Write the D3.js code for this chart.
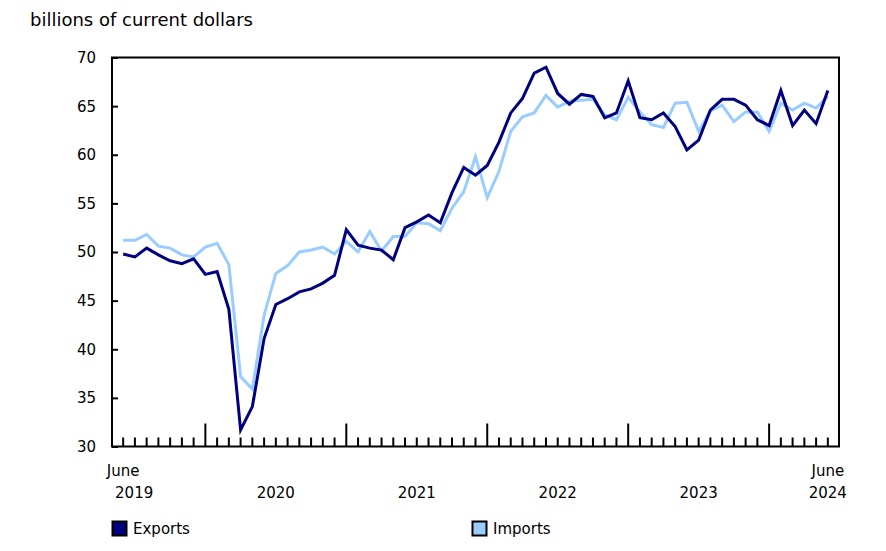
<!DOCTYPE html>
<html>
<head>
<meta charset="utf-8">
<script src="https://cdn.jsdelivr.net/npm/d3@7"></script>
<style>
  body { margin: 0; background: #fff; }
  text { font-family: "DejaVu Sans", Verdana, sans-serif; fill: #000; }
</style>
</head>
<body>
<div id="chart"></div>
<script>
// monthly, June 2019 to June 2024
var months = d3.timeMonth.range(new Date(2019, 5, 1), new Date(2024, 6, 1));

var exportsVals = [
  49.8, 49.5, 50.4, 49.7, 49.1, 48.8, 49.3, 47.7, 48.0, 44.1, 31.7, 34.1,
  41.1, 44.6, 45.2, 45.9, 46.2, 46.8, 47.6, 52.3, 50.7, 50.4, 50.2, 49.2,
  52.5, 53.1, 53.8, 53.0, 56.1, 58.7, 57.9, 58.9, 61.3, 64.3, 65.8, 68.4,
  69.0, 66.3, 65.2, 66.2, 66.0, 63.8, 64.3, 67.6, 63.8, 63.6, 64.3, 62.9,
  60.5, 61.5, 64.6, 65.7, 65.7, 65.1, 63.6, 63.0, 66.6, 63.0, 64.6, 63.2,
  66.6
];

var importsVals = [
  51.2, 51.2, 51.8, 50.6, 50.4, 49.7, 49.5, 50.5, 50.9, 48.7, 37.2, 35.9,
  43.5, 47.8, 48.6, 50.0, 50.2, 50.5, 49.8, 51.1, 50.0, 52.1, 50.1, 51.6,
  51.6, 53.0, 52.9, 52.2, 54.5, 56.2, 59.8, 55.6, 58.3, 62.4, 63.9, 64.3,
  66.1, 64.9, 65.5, 65.6, 65.7, 64.1, 63.6, 65.9, 64.4, 63.1, 62.8, 65.3,
  65.4, 62.4, 64.5, 65.1, 63.4, 64.4, 64.4, 62.4, 65.3, 64.6, 65.3, 64.8,
  66.0
];

var yTicks = [30, 35, 40, 45, 50, 55, 60, 65, 70];
var seriesNames = ["Exports", "Imports"];
var seriesColors = ["#000080", "#99ccff"];

var W = 886, H = 551;
var margin = { top: 57.5, right: 47, bottom: 104.5, left: 112 },
  width = W - margin.left - margin.right,
  height = H - margin.top - margin.bottom;

var svg = d3.select("#chart").append("svg")
  .attr("width", W)
  .attr("height", H);

var g = svg.append("g")
  .attr("transform", "translate(" + margin.left + "," + margin.top + ")");

var x = d3.scaleLinear()
  .domain([-0.95, months.length - 1 + 0.95])
  .range([0, width]);

var y = d3.scaleLinear()
  .domain([30, 70])
  .range([height, 0]);

// frame
g.append("rect")
  .attr("x", 0).attr("y", 0)
  .attr("width", width).attr("height", height)
  .attr("fill", "none")
  .attr("stroke", "#000")
  .attr("stroke-width", 2);

// y axis, ticks inside
var yAxis = g.append("g")
  .call(d3.axisRight(y).tickValues(yTicks).tickSize(6).tickFormat(""));
yAxis.select(".domain").remove();
yAxis.selectAll(".tick line").attr("stroke", "#000").attr("stroke-width", 2);

g.selectAll(".ylab")
  .data(yTicks)
  .enter()
  .append("text")
  .attr("class", "ylab")
  .attr("x", -16)
  .attr("y", function (d) { return y(d); })
  .attr("dy", "0.36em")
  .attr("text-anchor", "end")
  .style("font-size", "15px")
  .text(function (d) { return d; });

// x axis month ticks, long ones at January
var idx = d3.range(months.length);
g.selectAll(".mtick")
  .data(idx)
  .enter()
  .append("line")
  .attr("x1", function (i) { return x(i); })
  .attr("x2", function (i) { return x(i); })
  .attr("y1", height)
  .attr("y2", function (i) { return months[i].getMonth() === 0 ? height - 23 : height - 9; })
  .attr("stroke", "#000")
  .attr("stroke-width", 2);

// year labels
var years = [2020, 2021, 2022, 2023];
years.forEach(function (yr) {
  var a = idx.find(function (i) { return months[i].getFullYear() === yr && months[i].getMonth() === 0; });
  var b = a + 12;
  g.append("text")
    .attr("x", x((a + b) / 2))
    .attr("y", height + 51)
    .attr("text-anchor", "middle")
    .style("font-size", "15px")
    .text(yr);
});

g.append("text")
  .attr("x", x(0))
  .attr("y", height + 29)
  .attr("text-anchor", "middle")
  .style("font-size", "15px")
  .text("June");
g.append("text")
  .attr("x", x(0) + 11)
  .attr("y", height + 51)
  .attr("text-anchor", "middle")
  .style("font-size", "15px")
  .text("2019");
g.append("text")
  .attr("x", x(months.length - 1))
  .attr("y", height + 29)
  .attr("text-anchor", "middle")
  .style("font-size", "15px")
  .text("June");
g.append("text")
  .attr("x", x(months.length - 1))
  .attr("y", height + 51)
  .attr("text-anchor", "middle")
  .style("font-size", "15px")
  .text("2024");

// lines
var line = d3.line()
  .x(function (d, i) { return x(i); })
  .y(function (d) { return y(d); });

[importsVals, exportsVals].forEach(function (vals) {
  var k = vals === exportsVals ? 0 : 1;
  g.append("path")
    .datum(vals)
    .attr("fill", "none")
    .attr("stroke", seriesColors[k])
    .attr("stroke-width", 3)
    .attr("stroke-linejoin", "miter")
    .attr("d", line);
});

// title
svg.append("text")
  .attr("x", 30)
  .attr("y", 26)
  .style("font-size", "18px")
  .text("billions of current dollars");

// legend
var legendX = [112, 472];
var legend = svg.selectAll(".legend")
  .data(seriesNames)
  .enter()
  .append("g")
  .attr("class", "legend")
  .attr("transform", function (d, i) { return "translate(" + legendX[i] + ",521)"; });

legend.append("rect")
  .attr("x", 0.5).attr("y", 0.5)
  .attr("width", 14).attr("height", 14)
  .attr("fill", function (d, i) { return seriesColors[i]; })
  .attr("stroke", "#000")
  .attr("stroke-width", 2);

legend.append("text")
  .attr("x", 21)
  .attr("y", 13)
  .style("font-size", "15px")
  .text(function (d) { return d; });
</script>
</body>
</html>
